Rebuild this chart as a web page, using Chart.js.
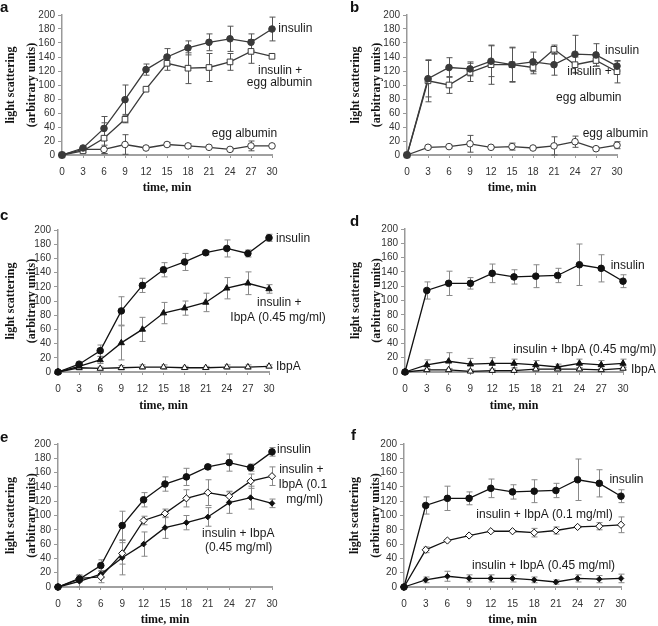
<!DOCTYPE html>
<html>
<head>
<meta charset="utf-8">
<script src="https://cdn.jsdelivr.net/npm/chart.js@4"></script>
<style>
    body { margin: 0; background: #fff; }
    #fig { position: relative; width: 658px; height: 626px; overflow: hidden; }
    #fig canvas { position: absolute; }
    .letter { position: absolute; font: bold 15px "Liberation Sans", Arial, sans-serif; line-height: 1; color: #111; }
</style>
</head>
<body>
<div id="fig"></div>
<script>
// time points and axis ticks
const minutes = [0, 3, 6, 9, 12, 15, 18, 21, 24, 27, 30];
const yMax = 200;
const yStep = 20;

// panel a
const aInsulin = [0, 10, 38, 79, 122, 140, 153, 161, 166, 161, 180];
const aInsulinErr = [0, 2, 17, 21, 8, 12, 10, 12, 18, 12, 17];
const aInsEgg = [0, 6, 24, 51, 94, 131, 124, 125, 133, 148, 141];
const aInsEggErr = [0, 2, 22, 5, 0, 10, 22, 20, 12, 17, 0];
const aEgg = [0, 8, 8, 15, 10, 15, 13, 11, 8, 13, 13];
const aEggErr = [0, 0, 6, 14, 0, 3, 3, 0, 2, 7, 0];

// panel b
const bInsulin = [0, 109, 125, 123, 134, 129, 133, 129, 144, 143, 127];
const bInsulinErr = [0, 26, 14, 10, 22, 25, 14, 15, 27, 16, 7];
const bInsEgg = [0, 106, 100, 118, 129, 129, 125, 151, 129, 135, 119];
const bInsEggErr = [0, 30, 12, 13, 28, 24, 9, 6, 11, 8, 16];
const bEgg = [0, 11, 12, 16, 11, 12, 10, 13, 19, 9, 14];
const bEggErr = [0, 2, 2, 12, 1, 5, 1, 13, 8, 2, 5];

// panel c
const cInsulin = [0, 11, 30, 86, 122, 144, 155, 168, 174, 167, 189];
const cInsulinErr = [0, 2, 8, 20, 10, 10, 12, 3, 12, 5, 5];
const cInsIbpA = [0, 8, 17, 41, 60, 83, 90, 98, 118, 125, 117];
const cInsIbpAErr = [0, 2, 5, 24, 17, 15, 10, 13, 15, 16, 6];
const cIbpA = [0, 6, 5, 6, 7, 7, 6, 6, 7, 7, 8];
const cIbpAErr = [0, 3, 2, 3, 3, 3, 2, 2, 3, 3, 2];

// panel d
const dInsulin = [0, 114, 124, 124, 138, 133, 134, 135, 150, 145, 127];
const dInsulinErr = [0, 12, 17, 8, 13, 10, 16, 10, 29, 19, 9];
const dInsIbpA = [0, 10, 15, 11, 12, 12, 10, 7, 12, 10, 12];
const dInsIbpAErr = [0, 7, 12, 8, 8, 6, 6, 4, 6, 6, 6];
const dIbpA = [0, 3, 3, 1, 2, 2, 4, 4, 4, 3, 5];
const dIbpAErr = [0, 2, 2, 2, 2, 2, 2, 2, 2, 2, 2];

// panel e
const eInsulin = [0, 11, 30, 86, 122, 144, 154, 168, 174, 167, 189];
const eInsulinErr = [0, 2, 8, 20, 10, 10, 12, 3, 12, 5, 6];
const eIbpA01 = [0, 12, 14, 47, 93, 103, 124, 132, 127, 148, 155];
const eIbpA01Err = [0, 5, 8, 15, 6, 6, 12, 18, 7, 10, 13];
const eIbpA045 = [0, 8, 18, 41, 60, 83, 90, 98, 118, 125, 117];
const eIbpA045Err = [0, 8, 5, 24, 17, 15, 10, 13, 15, 16, 6];

// panel f
const fInsulin = [0, 114, 124, 124, 138, 133, 134, 135, 150, 145, 127];
const fInsulinErr = [0, 12, 17, 9, 13, 10, 16, 10, 29, 19, 9];
const fIbpA01 = [0, 52, 65, 72, 78, 78, 76, 79, 84, 85, 87];
const fIbpA01Err = [0, 4, 1, 1, 1, 1, 6, 5, 1, 5, 11];
const fIbpA045 = [0, 10, 15, 12, 12, 12, 10, 7, 12, 11, 12];
const fIbpA045Err = [0, 4, 7, 5, 5, 5, 4, 3, 5, 5, 6];

const SANS = '"Liberation Sans", Arial, sans-serif';
const SERIF = '"Liberation Serif", "Times New Roman", serif';

function pts(values) {
    return minutes.map((m, i) => ({ x: m, y: values[i] }));
}

// marker styles
function series(values, errors, style, color, errColor) {
    const base = {
        data: pts(values),
        errors: errors,
        errColor: errColor,
        borderColor: color,
        borderWidth: 1.3,
        pointBorderColor: color,
        pointBorderWidth: 1,
        pointHoverRadius: 0,
        clip: false
    };
    const styles = {
        dot: { pointStyle: "circle", pointRadius: 3.3, pointBackgroundColor: color },
        ring: { pointStyle: "circle", pointRadius: 3.3, pointBackgroundColor: "#fff" },
        square: { pointStyle: "rect", pointRadius: 4, pointBackgroundColor: "#fff" },
        tri: { pointStyle: "triangle", pointRadius: 3.6, pointBackgroundColor: color },
        openTri: { pointStyle: "triangle", pointRadius: 3.6, pointBackgroundColor: "#fff" },
        openDiamond: { pointStyle: "rectRot", pointRadius: 3.6, pointBackgroundColor: "#fff" },
        smallDiamond: { pointStyle: "rectRot", pointRadius: 2.8, pointBackgroundColor: color }
    };
    return Object.assign(base, styles[style]);
}

// vertical error bars with caps, drawn under the markers
const errorBars = {
    id: "errorBars",
    beforeDatasetsDraw(chart) {
        const ctx = chart.ctx;
        const xs = chart.scales.x, ys = chart.scales.y;
        chart.data.datasets.forEach(ds => {
            if (!ds.errors) return;
            ctx.save();
            ctx.strokeStyle = ds.errColor;
            ctx.lineWidth = 1;
            ds.data.forEach((p, i) => {
                const e = ds.errors[i];
                if (!e) return;
                const px = Math.round(xs.getPixelForValue(p.x)) + 0.5;
                const top = ys.getPixelForValue(p.y + e);
                const bot = ys.getPixelForValue(Math.max(p.y - e, 0));
                ctx.beginPath();
                ctx.moveTo(px, top); ctx.lineTo(px, bot);
                ctx.moveTo(px - 3, top); ctx.lineTo(px + 3, top);
                ctx.moveTo(px - 3, bot); ctx.lineTo(px + 3, bot);
                ctx.stroke();
            });
            ctx.restore();
        });
    }
};

// series names written inside the plot
const seriesLabels = {
    id: "seriesLabels",
    afterDraw(chart, args, opts) {
        const ctx = chart.ctx;
        const xs = chart.scales.x, ys = chart.scales.y;
        ctx.save();
        ctx.font = "12px " + SANS;
        ctx.fillStyle = "#1a1a1a";
        ctx.textBaseline = "middle";
        ctx.textAlign = "left";
        (opts.items || []).forEach(it => {
            ctx.fillText(it.text, xs.getPixelForValue(it.x), ys.getPixelForValue(it.y));
        });
        ctx.restore();
    }
};

const grey = "#3a3a3a", black = "#111";

const panels = [
    {
        letter: "a", left: 0, top: 0, w: 329, h: 205, plot: [62, 15, 272, 155], titleLeft: 0, xTitleY: 188,
        letterPos: [0, -1],
        datasets: [
            series(aInsulin, aInsulinErr, "dot", grey, "#555"),
            series(aInsEgg, aInsEggErr, "square", grey, "#555"),
            series(aEgg, aEggErr, "ring", grey, "#555")
        ],
        labels: [
            { text: "insulin", x: 30.9, y: 180 },
            { text: "insulin +", x: 28.0, y: 121 },
            { text: "egg albumin", x: 26.4, y: 103 },
            { text: "egg albumin", x: 21.4, y: 31 }
        ]
    },
    {
        letter: "b", left: 329, top: 0, w: 329, h: 205, plot: [78, 15, 288, 155], titleLeft: 16, xTitleY: 188,
        letterPos: [350, -1],
        datasets: [
            series(bInsulin, bInsulinErr, "dot", grey, "#555"),
            series(bInsEgg, bInsEggErr, "square", grey, "#555"),
            series(bEgg, bEggErr, "ring", grey, "#555")
        ],
        labels: [
            { text: "insulin", x: 28.3, y: 149 },
            { text: "insulin +", x: 22.9, y: 119 },
            { text: "egg albumin", x: 21.3, y: 82 },
            { text: "egg albumin", x: 25.1, y: 30 }
        ]
    },
    {
        letter: "c", left: 0, top: 205, w: 329, h: 210, plot: [58, 25, 269, 167], titleLeft: 0, xTitleY: 201,
        letterPos: [0, 207],
        datasets: [
            series(cInsulin, cInsulinErr, "dot", black, "#888"),
            series(cInsIbpA, cInsIbpAErr, "tri", black, "#888"),
            series(cIbpA, cIbpAErr, "openTri", black, "#888")
        ],
        labels: [
            { text: "insulin", x: 31.0, y: 188 },
            { text: "insulin +", x: 28.3, y: 97 },
            { text: "IbpA (0.45 mg/ml)", x: 24.5, y: 76.5 },
            { text: "IbpA", x: 31.0, y: 7.5 }
        ]
    },
    {
        letter: "d", left: 329, top: 205, w: 329, h: 210, plot: [76, 24, 294, 167], titleLeft: 16, xTitleY: 201,
        letterPos: [350, 213],
        datasets: [
            series(dInsulin, dInsulinErr, "dot", black, "#888"),
            series(dInsIbpA, dInsIbpAErr, "tri", black, "#888"),
            series(dIbpA, dIbpAErr, "openTri", black, "#888")
        ],
        labels: [
            { text: "insulin", x: 28.3, y: 149 },
            { text: "insulin + IbpA (0.45 mg/ml)", x: 14.9, y: 31 },
            { text: "IbpA", x: 31.1, y: 3 }
        ]
    },
    {
        letter: "e", left: 0, top: 415, w: 329, h: 211, plot: [58, 29, 272, 172], titleLeft: 0, xTitleY: 205,
        letterPos: [0, 429],
        datasets: [
            series(eInsulin, eInsulinErr, "dot", black, "#888"),
            series(eIbpA01, eIbpA01Err, "openDiamond", black, "#888"),
            series(eIbpA045, eIbpA045Err, "smallDiamond", black, "#888")
        ],
        labels: [
            { text: "insulin", x: 30.7, y: 192.5 },
            { text: "insulin +", x: 31.0, y: 163.6 },
            { text: "IbpA (0.1", x: 30.9, y: 142.7 },
            { text: "mg/ml)", x: 32.0, y: 122.6 },
            { text: "insulin + IbpA", x: 20.2, y: 75 },
            { text: "(0.45 mg/ml)", x: 20.6, y: 55 }
        ]
    },
    {
        letter: "f", left: 329, top: 415, w: 329, h: 211, plot: [75, 29, 292, 172], titleLeft: 15, xTitleY: 205,
        letterPos: [351, 427],
        datasets: [
            series(fInsulin, fInsulinErr, "dot", black, "#888"),
            series(fIbpA01, fIbpA01Err, "openDiamond", black, "#888"),
            series(fIbpA045, fIbpA045Err, "smallDiamond", black, "#888")
        ],
        labels: [
            { text: "insulin", x: 28.4, y: 150.6 },
            { text: "insulin + IbpA (0.1 mg/ml)", x: 10.0, y: 100.7 },
            { text: "insulin + IbpA (0.45 mg/ml)", x: 9.4, y: 29.8 }
        ]
    }
];

function buildPanel(p) {
    const fig = document.getElementById("fig");
    const canvas = document.createElement("canvas");
    canvas.width = p.w;
    canvas.height = p.h;
    canvas.style.left = p.left + "px";
    canvas.style.top = p.top + "px";
    fig.appendChild(canvas);

    const letter = document.createElement("div");
    letter.className = "letter";
    letter.textContent = p.letter;
    letter.style.left = p.letterPos[0] + "px";
    letter.style.top = p.letterPos[1] + "px";
    fig.appendChild(letter);

    const [pl, pt, pr, pb] = p.plot;
    const yWidth = pl - p.titleLeft;
    const xHeight = p.xTitleY + 6 - pb;

    new Chart(canvas, {
        type: "line",
        data: { datasets: p.datasets },
        options: {
            responsive: false,
            animation: false,
            events: [],
            layout: {
                padding: { left: p.titleLeft, top: pt, right: p.w - pr, bottom: Math.max(p.h - pb - xHeight, 0) }
            },
            plugins: {
                legend: { display: false },
                tooltip: { enabled: false },
                seriesLabels: { items: p.labels }
            },
            scales: {
                x: {
                    type: "linear",
                    min: 0,
                    max: 30,
                    afterFit(scale) { scale.height = xHeight; },
                    ticks: { stepSize: 3, autoSkip: false, maxRotation: 0, color: "#333", padding: 8, font: { family: SANS, size: 10 } },
                    grid: { drawOnChartArea: false, drawTicks: true, tickLength: 3, color: "#999" },
                    border: { color: "#a0a0a0", width: 2 },
                    title: {
                        display: true, text: "time, min", color: "#111", padding: 0,
                        font: { family: SERIF, size: 12, weight: "bold", lineHeight: 1 }
                    }
                },
                y: {
                    min: 0,
                    max: yMax,
                    afterFit(scale) { scale.width = yWidth; },
                    ticks: { stepSize: yStep, autoSkip: false, color: "#333", padding: 3, font: { family: SANS, size: 10 } },
                    grid: { drawOnChartArea: false, drawTicks: true, tickLength: 4, color: "#999" },
                    border: { color: "#999", width: 1.5 },
                    title: {
                        display: true, text: ["light scattering", "(arbitrary units)"], color: "#111", padding: 0,
                        font: { family: SERIF, size: 12, weight: "bold", lineHeight: 1.8 }
                    }
                }
            }
        },
        plugins: [errorBars, seriesLabels]
    });
}

document.addEventListener("DOMContentLoaded", function () {
    panels.forEach(buildPanel);
});
</script>
</body>
</html>
